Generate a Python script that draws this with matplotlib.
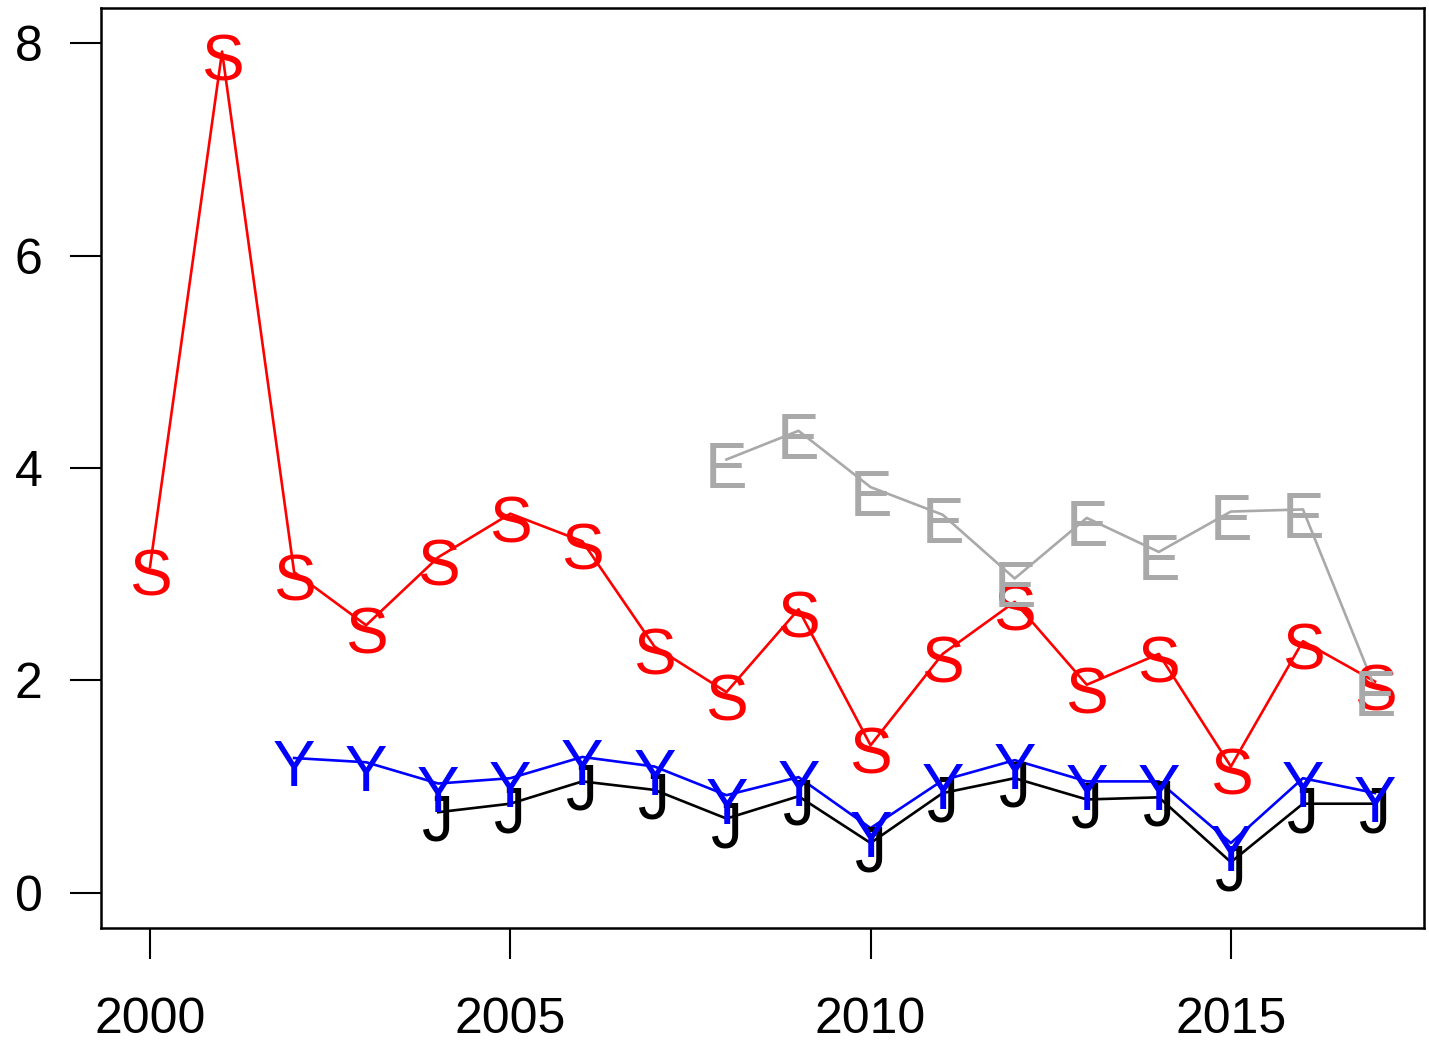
import matplotlib
matplotlib.use("Agg")
import matplotlib.pyplot as plt
from matplotlib.transforms import offset_copy

plt.rcParams['font.family'] = ['Liberation Sans', 'DejaVu Sans']

years_S = list(range(2000, 2018))
vals_S = [3.07, 7.92, 3.02, 2.52, 3.16, 3.57, 3.31, 2.32, 1.89, 2.67,
          1.39, 2.25, 2.74, 1.96, 2.25, 1.19, 2.37, 1.99]

years_E = list(range(2008, 2018))
vals_E = [4.08, 4.35, 3.82, 3.56, 2.96, 3.53, 3.21, 3.59, 3.61, 1.93]

years_J = list(range(2004, 2018))
vals_J = [0.76, 0.84, 1.05, 0.97, 0.70, 0.91, 0.47, 0.94, 1.08, 0.88,
          0.90, 0.29, 0.84, 0.84]

years_Y = list(range(2002, 2018))
vals_Y = [1.27, 1.23, 1.03, 1.08, 1.28, 1.19, 0.92, 1.09, 0.61, 1.06,
          1.25, 1.05, 1.05, 0.47, 1.08, 0.94]

series = [
    ("S", years_S, vals_S, "#FF0000"),
    ("E", years_E, vals_E, "#A9A9A9"),
    ("J", years_J, vals_J, "#000000"),
    ("Y", years_Y, vals_Y, "#0000FF"),
]

x_ticks = [2000, 2005, 2010, 2015]
y_ticks = [0, 2, 4, 6, 8]

W, H = 1429, 1043
fig = plt.figure(figsize=(W / 100, H / 100), dpi=100)
ax = fig.add_axes([101 / W, 1 - 928 / H, (1424 - 101) / W, (928 - 8) / H])

ax.set_xlim(1999.32, 2017.68)
ax.set_ylim(-0.33, 8.33)

txt_tr = offset_copy(ax.transData, fig=fig, x=0, y=-20.5, units='points')
for lab, xs, ys, col in series:
    ax.plot(xs, ys, color=col, lw=1.9, zorder=2)
    for x, y in zip(xs, ys):
        ax.text(x, y, lab, color=col, fontsize=46, ha='center', va='baseline',
                transform=txt_tr, zorder=3)

ax.set_xticks(x_ticks)
ax.set_xticklabels([str(t) for t in x_ticks])
ax.set_yticks(y_ticks)
ax.set_yticklabels([str(t) for t in y_ticks])
ax.tick_params(axis='x', length=22, width=1.5, pad=28, labelsize=36, direction='out')
ax.tick_params(axis='y', length=22, width=1.5, pad=20, labelsize=36, direction='out')
for sp in ax.spines.values():
    sp.set_linewidth(1.8)

fig.savefig("out.png", dpi=100)
